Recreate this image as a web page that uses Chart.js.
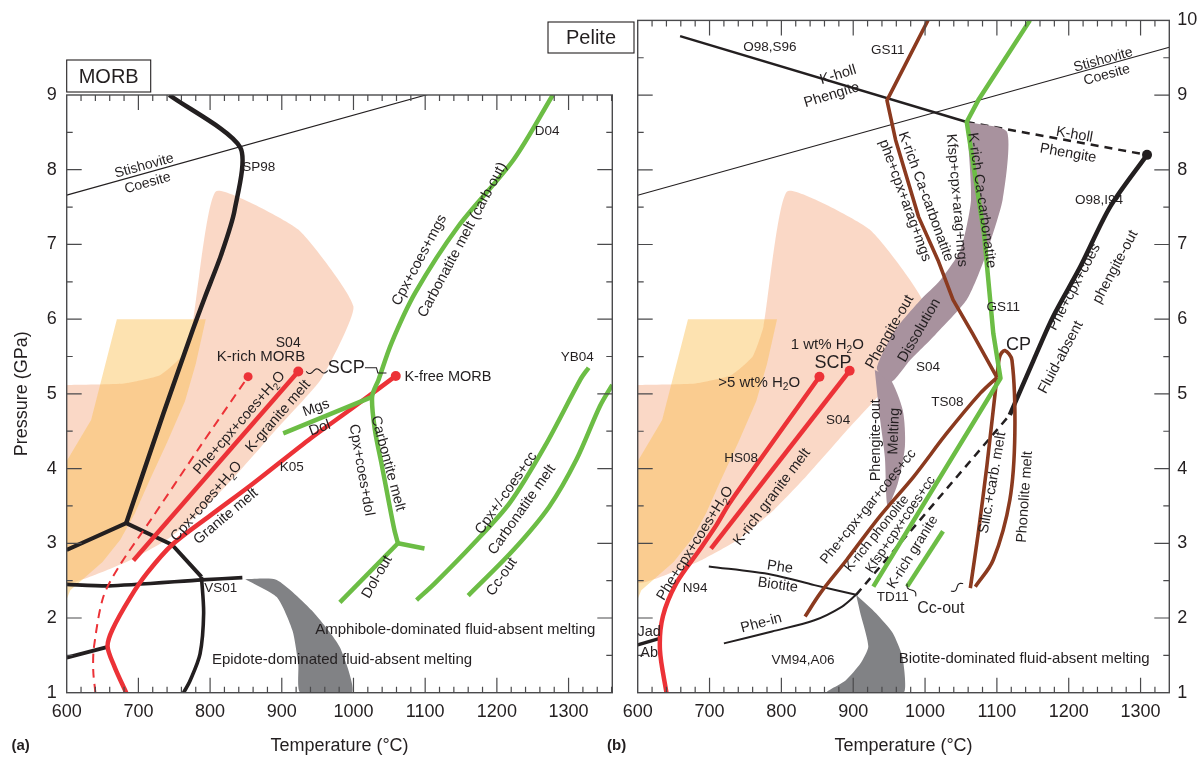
<!DOCTYPE html>
<html>
<head>
<meta charset="utf-8">
<script src="https://cdn.jsdelivr.net/npm/chart.js@4.4.0/dist/chart.umd.min.js"></script>
<style>
  html, body { margin: 0; padding: 0; background: #fff; }
  #wrap { position: relative; width: 1203px; height: 762px; overflow: hidden; background: #fff; }
  #wrap canvas { position: absolute; top: 0; }
</style>
</head>
<body>
<div id="wrap">
  <canvas id="morb" width="625" height="762" style="left:0"></canvas>
  <canvas id="pelite" width="663" height="762" style="left:540px"></canvas>
</div>
<script>
// ---- P–T curves, [temperature °C, pressure GPa] ----
const stishoviteCoesite = [[600, 7.66], [1340, 9.64]];

// slab-surface P–T fields shared by both panels
const slabPeach = [[600, 5.12], [680, 5.14], [730, 5.25], [760, 5.5], [775, 5.9], [808, 7.71], [923, 7.2], [1000, 6.17], [955, 5.2], [890, 4.5], [835, 3.9], [790, 3.45], [740, 3.05], [690, 2.78], [640, 2.58], [600, 2.48], [600, 5.12]];
const slabOrange = [[670, 6.0], [794, 6.0], [780, 5.4], [765, 4.9], [740, 4.35], [716, 3.85], [695, 3.4], [675, 3.05], [650, 2.75], [605, 2.37], [600, 2.25], [600, 4.1], [634, 4.65], [670, 6.0]];

// MORB
const morbSp98 = [[743, 9.0], [842, 8.30], [834, 7.45], [815, 6.85], [793, 6.3], [776, 5.86], [735, 4.74], [683, 3.27]];
const morbSolidusLow = [[600, 2.91], [683, 3.27], [747, 2.98], [788, 2.55]];
const morbVs01 = [[788, 2.55], [791, 2.06], [786, 1.52], [772, 1.16], [763, 1.0]];
const morbAmphiboleOut = [[600, 2.45], [659, 2.43], [788, 2.51], [845, 2.54]];
const morbLowLeft = [[600, 1.47], [656, 1.61]];
const morbGraniteMelt = [[683, 1.0], [667, 1.34], [657, 1.62], [664, 1.85], [689, 2.28], [712, 2.6], [747, 2.98], [800, 3.37], [860, 3.80], [937, 4.38], [1000, 4.82], [1059, 5.24]];
const morbKGraniteMelt = [[693, 2.77], [923, 5.30]];
const morbWetSolidus = [[640, 1.0], [637, 1.3], [638, 1.61], [651, 2.28], [673, 2.69], [717, 3.31], [785, 4.28], [853, 5.23]];
const morbCarbOut = [[1278, 9.0], [1223, 8.13], [1146, 7.24], [1086, 6.35], [1053, 5.68], [1035, 5.19], [1026, 4.96], [1030, 4.51], [1039, 4.07], [1048, 3.62], [1057, 3.18], [1062, 3.0]];
const morbDolOut = [[1062, 3.0], [981, 2.21]];
const morbDolArm = [[1062, 3.0], [1099, 2.93]];
const morbMgsDol = [[902, 4.47], [1026, 4.96]];
const morbYb04 = [[1328, 5.35], [1317, 5.2], [1267, 4.30], [1218, 3.54], [1168, 3.0], [1113, 2.46], [1088, 2.24]];
const morbCcOut = [[1361, 5.12], [1344, 4.84], [1311, 4.12], [1273, 3.49], [1223, 2.91], [1160, 2.30]];
const morbAmphiboleBand = [[849, 2.52], [893, 2.51], [942, 2.10], [981, 1.61], [998, 1.0], [926, 1.0], [923, 1.38], [915, 1.83], [893, 2.28], [849, 2.52]];

// Pelite
const peliteKholl = [[659, 9.79], [1058, 8.64]];
const peliteKhollHigh = [[1058, 8.64], [1309, 8.20]];
const pelitePhengiteOut = [[1118, 4.72], [1151, 5.45], [1178, 6.03], [1216, 6.7], [1258, 7.51], [1309, 8.20]];
const pelitePhengiteOutLow = [[904, 2.31], [1118, 4.72]];
const peliteCarbonatite = [[1004, 10.0], [947, 8.93], [959, 8.40], [991, 7.37], [1018, 6.79], [1039, 6.26], [1066, 5.81], [1100, 5.22]];
const pelitePhonolite = [[1100, 5.22], [1077, 5.01], [1030, 4.47], [984, 3.89], [937, 3.36], [891, 2.78], [854, 2.33], [833, 2.02]];
const peliteSilicCarb = [[1100, 5.22], [1086, 4.03], [1074, 3.13], [1063, 2.40]];
const peliteCpLoop = [[1100, 5.22], [1104, 5.50], [1111, 5.58], [1121, 5.45], [1125, 4.47], [1118, 3.58], [1095, 2.78], [1070, 2.42]];
const peliteGs11 = [[1146, 10.0], [1074, 8.93], [1058, 8.64], [1082, 7.15], [1095, 5.81], [1105, 5.21], [928, 2.42]];
const peliteKGranite = [[975, 2.42], [1025, 3.16]];
const pelitePheBiotite = [[699, 2.69], [787, 2.58], [846, 2.44], [904, 2.31]];
const pelitePheIn = [[720, 1.66], [787, 1.82], [846, 1.97], [884, 2.15], [904, 2.31]];
const peliteJadAb = [[600, 1.64], [632, 1.73]];
const peliteWetMelt = [[640, 1.0], [631, 1.57], [635, 2.02], [654, 2.47], [686, 2.91], [710, 3.25], [728, 3.54], [853, 5.23]];
const peliteOneWt = [[702, 2.93], [895, 5.31]];
const peliteDissolution = [[1058, 8.64], [1114, 8.51], [1108, 7.6], [1082, 6.79], [1058, 6.26], [1014, 5.79], [979, 5.45], [953, 5.16], [933, 5.34], [958, 5.85], [993, 6.25], [1021, 6.52], [1049, 6.92], [1064, 7.6], [1058, 8.64]];
const peliteMelting = [[930, 5.32], [937, 4.69], [944, 4.16], [948, 3.5], [962, 3.8], [972, 4.3], [969, 4.78], [951, 5.21], [930, 5.32]];
const peliteBiotiteBand = [[904, 2.31], [932, 2.06], [955, 1.8], [968, 1.5], [972, 1.2], [970, 1.0], [863, 1.0], [889, 1.16], [910, 1.39], [921, 1.62], [910, 2.06], [904, 2.31]];

// ---- axis ticks ----
const xTickValues = [600, 700, 800, 900, 1000, 1100, 1200, 1300];
const morbPressureTicks = [1, 2, 3, 4, 5, 6, 7, 8, 9];
const pelitePressureTicks = [1, 2, 3, 4, 5, 6, 7, 8, 9, 10];

// ---- annotations: [text, T, P, size, angle°, align] ----
const morbLabels = [
  ['Stishovite', 708, 8.05, 14, -15.5],
  ['Coesite', 713, 7.82, 14, -15.5],
  ['SP98', 868, 8.03, 13.5, 0],
  ['D04', 1270, 8.51, 13.5, 0],
  ['S04', 909, 5.68, 14, 0],
  ['K-rich MORB', 871, 5.49, 15, 0],
  ['SCP', 990, 5.34, 18, 0],
  ['K-free MORB', 1071, 5.22, 14.5, 0, 'left'],
  ['YB04', 1312, 5.49, 13.5, 0],
  ['Cpx+coes+mgs', 1092, 6.79, 14.5, -62],
  ['Carbonatite melt (carb-out)', 1152, 7.06, 14.5, -62],
  ['Mgs', 948, 4.81, 14.5, -20],
  ['Dol', 953, 4.54, 14.5, -20],
  ['K05', 914, 4.02, 13.5, 0],
  ['Phe+cpx+coes+H_2O', 841, 4.61, 14.5, -49],
  ['K-granite melt', 895, 4.70, 14.5, -49],
  ['Cpx+coes+H_2O', 795, 3.56, 14.5, -49],
  ['Granite melt', 822, 3.36, 14.5, -40],
  ['Carbontite melt', 1048, 4.07, 14.5, 75],
  ['Cpx+coes+dol', 1011, 3.98, 14.5, 80],
  ['Dol-out', 1033, 2.55, 14.5, -60],
  ['Cpx+/-coes+cc', 1213, 3.67, 14.5, -55],
  ['Carbonatite melt', 1235, 3.45, 14.5, -55],
  ['Cc-out', 1207, 2.55, 14.5, -55],
  ['VS01', 815, 2.40, 13.5, 0],
  ['Amphibole-dominated fluid-absent melting', 1142, 1.84, 15, 0],
  ['Epidote-dominated fluid-absent melting', 984, 1.44, 15, 0]
];
const peliteLabels = [
  ['O98,S96', 784, 9.64, 13.5, 0],
  ['GS11', 948, 9.60, 13.5, 0],
  ['K-holl', 879, 9.27, 14.5, -17],
  ['Phengite', 870, 9.0, 14.5, -17],
  ['Stishovite', 1248, 9.47, 14, -15.5],
  ['Coesite', 1253, 9.27, 14, -15.5],
  ['K-holl', 1208, 8.47, 14.5, 10],
  ['Phengite', 1199, 8.22, 14.5, 10],
  ['K-rich Ca-carbonatite', 1001, 7.64, 14.5, 70],
  ['phe+cpx+arag+mgs', 972, 7.59, 14.5, 70],
  ['Kfsp+cpx+arag+mgs', 1044, 7.59, 14.5, 85],
  ['K-rich Ca-carbonatite', 1079, 7.59, 14.5, 82],
  ['GS11', 1109, 6.16, 13.5, 0],
  ['O98,I94', 1242, 7.59, 13.5, 0],
  ['Phe+cpx+coes', 1208, 6.43, 14.5, -62],
  ['phengite-out', 1265, 6.70, 14.5, -62],
  ['Fluid-absent', 1189, 5.49, 14.5, -62],
  ['CP', 1130, 5.65, 18, 0],
  ['Phengite-out', 951, 5.83, 14.5, -60],
  ['Dissolution', 992, 5.85, 14.5, -60],
  ['S04', 1004, 5.35, 13.5, 0],
  ['1 wt% H_2O', 864, 5.65, 15, 0],
  ['SCP', 872, 5.41, 18, 0],
  ['>5 wt% H_2O', 769, 5.15, 15, 0],
  ['S04', 879, 4.65, 13.5, 0],
  ['HS08', 744, 4.14, 13.5, 0],
  ['TS08', 1031, 4.89, 13.5, 0],
  ['Phengite-out', 932, 4.38, 14.5, -90],
  ['Melting', 957, 4.50, 14.5, -88],
  ['Phe+cpx+gar+coes+cc', 921, 3.49, 14, -51],
  ['K-rich phonolite', 933, 3.13, 13.5, -51],
  ['Kfsp+cpx+coes+cc', 966, 3.25, 13.5, -56],
  ['K-rich granite', 983, 2.88, 14, -58],
  ['Silic.+carb. melt', 1094, 3.81, 14.5, -80],
  ['Phonolite melt', 1139, 3.62, 14.5, -86],
  ['Phe+cpx+coes+H_2O', 680, 3.0, 14.5, -58],
  ['K-rich granite melt', 787, 3.62, 14.5, -53],
  ['N94', 680, 2.40, 13.5, 0],
  ['Phe', 798, 2.68, 14.5, 8],
  ['Biotite', 795, 2.44, 14.5, 8],
  ['Phe-in', 772, 1.93, 14.5, -15],
  ['TD11', 955, 2.28, 13.5, 0],
  ['Cc-out', 1022, 2.13, 16, 0],
  ['Jad', 616, 1.81, 14.5, 0],
  ['Ab', 616, 1.53, 14.5, 0],
  ['VM94,A06', 830, 1.44, 13.5, 0],
  ['Biotite-dominated fluid-absent melting', 1138, 1.45, 15, 0]
];

// ---- styling ----
const FONT = "'Liberation Sans', Arial, Helvetica, sans-serif";
const INK = '#231f20';
const FRAME = '#4a4a4c';
const RED = '#ec3237', GREEN = '#6cbd45', BROWN = '#8b3a1f', GREY = '#818285', MAUVE = '#a8929e';
const PEACH = 'rgba(247,190,160,0.6)', ORANGE = 'rgba(250,190,80,0.45)';

function xy(arr) { return arr.map(p => ({ x: p[0], y: p[1] })); }
function curve(arr, color, width, extra) {
  return Object.assign({
    data: xy(arr), borderColor: color, borderWidth: width, pointRadius: 0,
    fill: false, tension: 0, borderCapStyle: 'butt', borderJoinStyle: 'round', order: 5
  }, extra || {});
}
function endDot(arr, color, width, r, extra) {
  const n = arr.length;
  return curve(arr, color, width, Object.assign({
    pointRadius: arr.map((_, i) => i === n - 1 ? r : 0),
    pointBackgroundColor: color, pointBorderColor: color, pointBorderWidth: 0
  }, extra || {}));
}
function patch(arr, color, extra) {
  return Object.assign({
    data: xy(arr), borderWidth: 0, borderColor: 'rgba(0,0,0,0)', backgroundColor: color,
    fill: 'shape', pointRadius: 0, tension: 0, order: 30
  }, extra || {});
}

// text with "_x" subscripts
function drawRich(ctx, text, x, y, size, rot, align, weight) {
  const segs = [];
  let buf = '';
  for (let i = 0; i < text.length; i++) {
    if (text[i] === '_' && i + 1 < text.length) {
      if (buf) segs.push({ t: buf });
      buf = '';
      segs.push({ t: text[i + 1], sub: true });
      i++;
    } else buf += text[i];
  }
  if (buf) segs.push({ t: buf });
  const f = s => (weight ? weight + ' ' : '') + s + 'px ' + FONT;
  ctx.save();
  ctx.translate(x, y);
  ctx.rotate((rot || 0) * Math.PI / 180);
  let w = 0;
  segs.forEach(s => { ctx.font = f(s.sub ? size * 0.68 : size); s.w = ctx.measureText(s.t).width; w += s.w; });
  let cx = align === 'left' ? 0 : align === 'right' ? -w : -w / 2;
  ctx.textAlign = 'left';
  ctx.textBaseline = 'middle';
  ctx.fillStyle = INK;
  segs.forEach(s => {
    ctx.font = f(s.sub ? size * 0.68 : size);
    ctx.fillText(s.t, cx, s.sub ? size * 0.32 : 0);
    cx += s.w;
  });
  ctx.restore();
}

function squiggle(ctx, x1, y1, x2, y2, amp, waves) {
  const n = 30, dx = x2 - x1, dy = y2 - y1, len = Math.hypot(dx, dy);
  const nx = -dy / len, ny = dx / len;
  ctx.beginPath();
  for (let i = 0; i <= n; i++) {
    const t = i / n, o = Math.sin(t * Math.PI * 2 * waves) * amp;
    const px = x1 + dx * t + nx * o, py = y1 + dy * t + ny * o;
    if (i === 0) ctx.moveTo(px, py); else ctx.lineTo(px, py);
  }
  ctx.stroke();
}

function decor(cfg) {
  return {
    id: 'decor_' + cfg.name,
    afterDatasetsDraw(chart) {
      const { ctx, chartArea: a, scales: { x, y } } = chart;
      const px = v => x.getPixelForValue(v), py = v => y.getPixelForValue(v);
      ctx.save();
      // frame
      ctx.strokeStyle = FRAME;
      ctx.lineWidth = 1.4;
      ctx.strokeRect(a.left, a.top, a.right - a.left, a.bottom - a.top);
      // inward tick marks, major every 100 °C / 1 GPa
      ctx.lineWidth = 1.2;
      ctx.beginPath();
      for (let t = x.min; t <= x.max + 1e-6; t += 20) {
        const major = Math.abs(t % 100) < 1e-6, len = major ? 15 : 6, X = px(t);
        if (X < a.left + 0.5 || X > a.right - 0.5) continue;
        ctx.moveTo(X, a.bottom); ctx.lineTo(X, a.bottom - len);
        ctx.moveTo(X, a.top); ctx.lineTo(X, a.top + len);
      }
      for (let p = y.min; p <= y.max + 1e-6; p += 0.5) {
        const major = Math.abs(p - Math.round(p)) < 1e-6, len = major ? 15 : 6, Y = py(p);
        if (Y < a.top + 0.5 || Y > a.bottom - 0.5) continue;
        ctx.moveTo(a.left, Y); ctx.lineTo(a.left + len, Y);
        ctx.moveTo(a.right, Y); ctx.lineTo(a.right - len, Y);
      }
      ctx.stroke();
      // field labels
      cfg.labels.forEach(l => drawRich(ctx, l[0], px(l[1]), py(l[2]), l[3], l[4], l[5] || 'center'));
      // connector marks
      ctx.strokeStyle = INK;
      ctx.lineWidth = 1.1;
      (cfg.squiggles || []).forEach(s => squiggle(ctx, px(s[0]), py(s[1]), px(s[2]), py(s[3]), s[4], s[5]));
      (cfg.brackets || []).forEach(b => {
        ctx.beginPath();
        b.forEach((q, i) => i ? ctx.lineTo(px(q[0]), py(q[1])) : ctx.moveTo(px(q[0]), py(q[1])));
        ctx.stroke();
      });
      // panel name box
      const bx = a.left + cfg.box.dx, by = a.top + cfg.box.dy;
      ctx.lineWidth = 1.1;
      ctx.strokeStyle = INK;
      ctx.strokeRect(bx, by, cfg.box.w, cfg.box.h);
      drawRich(ctx, cfg.box.text, bx + cfg.box.w / 2, by + cfg.box.h / 2 + 1, 20, 0, 'center');
      // panel letter and axis titles
      drawRich(ctx, cfg.letter, a.left + cfg.letterDx, a.bottom + 53, 15, 0, 'center', 'bold');
      drawRich(ctx, 'Temperature (°C)', (a.left + a.right) / 2, a.bottom + 53, 18, 0, 'center');
      if (cfg.yTitle) drawRich(ctx, 'Pressure (GPa)', a.left - 45, (a.top + a.bottom) / 2, 18, -90, 'center');
      ctx.restore();
    }
  };
}

function makeChart(id, cfg) {
  return new Chart(document.getElementById(id), {
    type: 'line',
    data: { datasets: cfg.datasets },
    options: {
      responsive: false, animation: false, events: [],
      layout: { padding: cfg.padding },
      plugins: { legend: { display: false }, tooltip: { enabled: false }, title: { display: false } },
      scales: {
        x: {
          type: 'linear', position: 'bottom', min: cfg.xMin, max: cfg.xMax,
          grid: { display: false, drawTicks: false }, border: { display: false },
          afterBuildTicks: s => { s.ticks = xTickValues.map(v => ({ value: v })); },
          ticks: { autoSkip: false, maxRotation: 0, padding: 9, color: INK, font: { family: FONT, size: 18 }, callback: v => String(v) },
          afterFit: s => { s.height = 30; }
        },
        y: {
          type: 'linear', position: cfg.yPos, min: 1, max: cfg.yMax,
          grid: { display: false, drawTicks: false }, border: { display: false },
          afterBuildTicks: s => { s.ticks = cfg.yTicks.map(v => ({ value: v })); },
          ticks: { autoSkip: false, padding: cfg.yPad, color: INK, font: { family: FONT, size: 18 }, callback: v => String(v) },
          afterFit: s => { s.width = cfg.yWidth; }
        }
      }
    },
    plugins: [decor(cfg)]
  });
}

// (a) MORB
makeChart('morb', {
  name: 'morb', xMin: 600, xMax: 1361, yMax: 9, yPos: 'left', yWidth: 66.7, yPad: 10, yTicks: morbPressureTicks,
  padding: { left: 0, right: 12.7, top: 95, bottom: 39.3 },
  labels: morbLabels, letter: '(a)', letterDx: -46, yTitle: true,
  box: { text: 'MORB', dx: 0, dy: -35, w: 84, h: 32 },
  squiggles: [[934, 5.30, 964, 5.31, 2.2, 1.5]],
  brackets: [[[1016, 5.35], [1032, 5.35], [1034, 5.28], [1046, 5.28]]],
  datasets: [
    patch(slabOrange, ORANGE, { order: 29 }),
    patch(slabPeach, PEACH, { order: 30, tension: 0.15 }),
    patch(morbAmphiboleBand, GREY, { order: 25, tension: 0.2 }),
    curve(stishoviteCoesite, INK, 1.1, { order: 20 }),
    curve(morbSp98, INK, 4.5, { tension: 0.25 }),
    curve(morbSolidusLow, INK, 4),
    curve(morbVs01, INK, 3.6, { tension: 0.3 }),
    curve(morbAmphiboleOut, INK, 3.6, { tension: 0.2 }),
    curve(morbLowLeft, INK, 4),
    endDot(morbWetSolidus, RED, 2, 4.5, { borderDash: [9, 6], tension: 0.3, order: 4 }),
    endDot(morbGraniteMelt, RED, 4.5, 5, { tension: 0.3, order: 3 }),
    endDot(morbKGraniteMelt, RED, 4.5, 5, { order: 3 }),
    curve(morbCarbOut, GREEN, 4.5, { tension: 0.3, order: 2 }),
    curve(morbDolOut, GREEN, 4.5, { order: 2 }),
    curve(morbDolArm, GREEN, 4.5, { order: 2 }),
    curve(morbMgsDol, GREEN, 4.5, { order: 2 }),
    curve(morbYb04, GREEN, 4.5, { tension: 0.3, order: 2 }),
    curve(morbCcOut, GREEN, 4.5, { tension: 0.3, order: 2 })
  ]
});

// (b) Pelite
makeChart('pelite', {
  name: 'pelite', xMin: 600, xMax: 1340, yMax: 10, yPos: 'right', yWidth: 33.7, yPad: 8, yTicks: pelitePressureTicks,
  padding: { left: 97.7, right: 0, top: 20.4, bottom: 39.3 },
  labels: peliteLabels, letter: '(b)', letterDx: -21, yTitle: false,
  box: { text: 'Pelite', dx: -89.7, dy: 1.6, w: 86, h: 31 },
  squiggles: [[975, 2.46, 987, 2.29, 2, 1], [1036, 2.36, 1053, 2.46, 2, 1]],
  brackets: [],
  datasets: [
    patch(slabOrange, ORANGE, { order: 29 }),
    patch(slabPeach, PEACH, { order: 30, tension: 0.15 }),
    patch(peliteBiotiteBand, GREY, { order: 25, tension: 0.2 }),
    curve(peliteKhollHigh, INK, 2.5, { borderDash: [8, 6], order: 22 }),
    endDot(peliteKhollHigh, 'rgba(0,0,0,0)', 0, 5, { pointBackgroundColor: INK, pointBorderColor: INK, order: 1 }),
    patch(peliteDissolution, MAUVE, { order: 21, tension: 0.2 }),
    patch(peliteMelting, MAUVE, { order: 21, tension: 0.25 }),
    curve(stishoviteCoesite, INK, 1.1, { order: 20 }),
    curve(peliteKholl, INK, 2.4, { order: 6 }),
    curve(pelitePhengiteOut, INK, 4.5, { tension: 0.3, order: 6 }),
    curve(pelitePhengiteOutLow, INK, 2.5, { borderDash: [8, 6], order: 6 }),
    curve(pelitePheBiotite, INK, 2, { tension: 0.3, order: 6 }),
    curve(pelitePheIn, INK, 2, { tension: 0.3, order: 6 }),
    curve(peliteJadAb, INK, 3.5, { order: 6 }),
    curve(peliteCarbonatite, BROWN, 3.6, { order: 4 }),
    curve(pelitePhonolite, BROWN, 3.6, { tension: 0.3, order: 4 }),
    curve(peliteSilicCarb, BROWN, 3.6, { tension: 0.2, order: 4 }),
    curve(peliteCpLoop, BROWN, 3.6, { tension: 0.35, order: 4 }),
    curve(peliteGs11, GREEN, 4.5, { order: 3 }),
    curve(peliteKGranite, GREEN, 4.5, { order: 3 }),
    endDot(peliteWetMelt, RED, 4.5, 5, { tension: 0.3, order: 2 }),
    endDot(peliteOneWt, RED, 4.5, 5, { order: 2 })
  ]
});
</script>
</body>
</html>
